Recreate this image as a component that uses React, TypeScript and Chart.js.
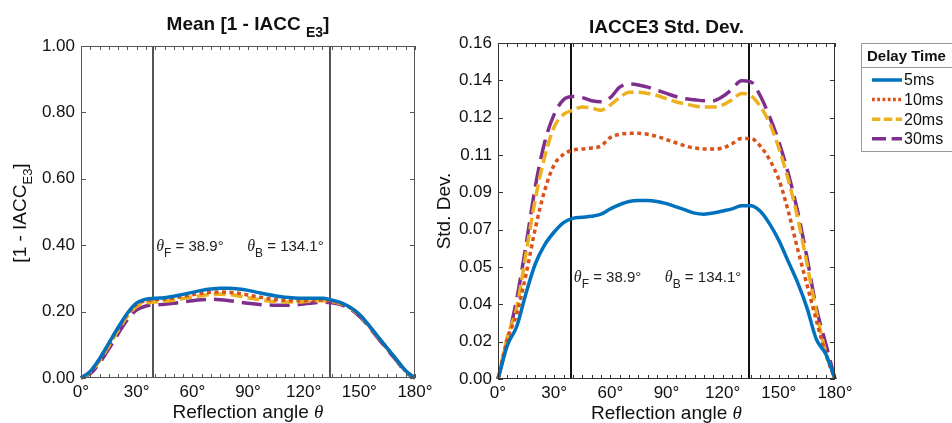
import React, { useEffect, useRef } from 'react';
import { Chart, registerables } from 'chart.js';

Chart.register(...registerables);

// ---------------- data ----------------
const angles = [0, 5, 10, 15, 20, 25, 30, 35, 40, 45, 50, 55, 60, 65, 70, 75, 80, 85, 90, 95, 100, 105, 110, 115, 120, 125, 130, 135, 140, 145, 150, 155, 160, 165, 170, 175, 180];
const seriesLabels = ['5ms', '10ms', '20ms', '30ms'];

const mean5 = [0, 0.020, 0.058, 0.105, 0.152, 0.195, 0.226, 0.237, 0.240, 0.242, 0.246, 0.252, 0.258, 0.264, 0.268, 0.270, 0.270, 0.268, 0.264, 0.258, 0.252, 0.247, 0.243, 0.241, 0.240, 0.240, 0.240, 0.235, 0.227, 0.213, 0.192, 0.160, 0.125, 0.090, 0.056, 0.022, 0];
const mean10 = [0, 0.019, 0.056, 0.103, 0.150, 0.192, 0.222, 0.233, 0.236, 0.238, 0.241, 0.246, 0.251, 0.255, 0.258, 0.259, 0.258, 0.255, 0.250, 0.245, 0.240, 0.236, 0.234, 0.233, 0.233, 0.234, 0.235, 0.232, 0.225, 0.212, 0.190, 0.158, 0.123, 0.088, 0.055, 0.021, 0];
const mean20 = [0, 0.017, 0.052, 0.097, 0.143, 0.186, 0.215, 0.226, 0.229, 0.231, 0.234, 0.239, 0.244, 0.248, 0.251, 0.252, 0.251, 0.247, 0.242, 0.237, 0.233, 0.230, 0.229, 0.229, 0.230, 0.232, 0.233, 0.231, 0.224, 0.211, 0.189, 0.158, 0.123, 0.089, 0.055, 0.021, 0];
const mean30 = [0, 0.013, 0.045, 0.088, 0.133, 0.176, 0.205, 0.217, 0.220, 0.222, 0.225, 0.229, 0.233, 0.236, 0.237, 0.236, 0.233, 0.229, 0.225, 0.222, 0.220, 0.219, 0.219, 0.220, 0.223, 0.226, 0.228, 0.227, 0.221, 0.208, 0.186, 0.155, 0.120, 0.086, 0.052, 0.018, 0];

const std5 = [0, 0.016, 0.025, 0.041, 0.055, 0.064, 0.070, 0.0745, 0.0765, 0.077, 0.0775, 0.0785, 0.081, 0.083, 0.0845, 0.085, 0.085, 0.0845, 0.0835, 0.082, 0.0805, 0.079, 0.0785, 0.079, 0.080, 0.081, 0.0825, 0.0825, 0.080, 0.074, 0.066, 0.056, 0.046, 0.034, 0.019, 0.012, 0];
const std10 = [0, 0.019, 0.031, 0.050, 0.072, 0.090, 0.102, 0.107, 0.109, 0.1095, 0.110, 0.111, 0.115, 0.1165, 0.117, 0.117, 0.1165, 0.1155, 0.114, 0.1125, 0.111, 0.110, 0.1095, 0.1095, 0.110, 0.112, 0.1145, 0.1145, 0.111, 0.1045, 0.095, 0.080, 0.062, 0.045, 0.028, 0.012, 0];
const std20 = [0, 0.020, 0.034, 0.060, 0.086, 0.106, 0.120, 0.126, 0.128, 0.1295, 0.129, 0.128, 0.1305, 0.134, 0.1365, 0.1365, 0.136, 0.135, 0.1335, 0.132, 0.131, 0.130, 0.1295, 0.1295, 0.1305, 0.133, 0.136, 0.135, 0.130, 0.122, 0.110, 0.095, 0.077, 0.055, 0.032, 0.013, 0];
const std30 = [0, 0.018, 0.038, 0.064, 0.092, 0.113, 0.126, 0.133, 0.1345, 0.134, 0.1325, 0.132, 0.134, 0.139, 0.1405, 0.140, 0.139, 0.1375, 0.136, 0.1345, 0.1335, 0.133, 0.1325, 0.1325, 0.1345, 0.138, 0.142, 0.1415, 0.135, 0.125, 0.113, 0.098, 0.080, 0.058, 0.034, 0.017, 0];

const xTickValues = [0, 30, 60, 90, 120, 150, 180];
const xTickLabels = ['0°', '30°', '60°', '90°', '120°', '150°', '180°'];
const leftYTickValues = [0, 0.2, 0.4, 0.6, 0.8, 1.0];
const leftYTickLabels = ['0.00', '0.20', '0.40', '0.60', '0.80', '1.00'];
const rightYTickLabels = ['0.00', '0.02', '0.04', '0.05', '0.07', '0.09', '0.11', '0.12', '0.14', '0.16'];
const rightYMax = 0.16;

const thetaF = 38.9;
const thetaB = 134.1;
const legendTitle = 'Delay Time';

// ---------------- styles ----------------
const SANS = "'Liberation Sans', Arial, Helvetica, sans-serif";
const SERIF = "'Liberation Serif', 'DejaVu Serif', serif";
const colors = ['#0072BD', '#D95319', '#EDB120', '#7E2F8E'];
const dashes: number[][] = [[], [4, 3.5], [12, 5], [20, 8]];
const LW = 3.5;

type Part = { t: string; f: string; dy?: number };

function richWidth(ctx: CanvasRenderingContext2D, parts: Part[]) {
  let w = 0;
  for (const p of parts) {
    ctx.font = p.f;
    w += ctx.measureText(p.t).width;
  }
  return w;
}

function drawRich(ctx: CanvasRenderingContext2D, parts: Part[], x: number, y: number, align: 'left' | 'center', color = '#111') {
  const w = richWidth(ctx, parts);
  let cx = align === 'center' ? x - w / 2 : x;
  ctx.fillStyle = color;
  ctx.textAlign = 'left';
  for (const p of parts) {
    ctx.font = p.f;
    ctx.fillText(p.t, cx, y + (p.dy || 0));
    cx += ctx.measureText(p.t).width;
  }
}

type Panel = {
  series: number[][];
  yMax: number;
  yTickValues: number[];
  yTickLabels: string[];
  padding: { top: number; right: number; left: number; bottom: number };
  yWidth: number;
  xHeight: number;
  vlineColor: string;
  frameColor: string;
  titleParts: Part[];
  yTitleParts: Part[];
  yTitleX: number;
  yTitleY: number;
  annotY: number;
  legend: boolean;
};

function makeChart(canvas: HTMLCanvasElement, p: Panel) {
  const decor = {
    id: 'decor',
    beforeDatasetsDraw(chart: any) {
      const ctx = chart.ctx as CanvasRenderingContext2D;
      const { top, bottom } = chart.chartArea;
      const xs = chart.scales.x;
      ctx.save();
      ctx.strokeStyle = p.vlineColor;
      ctx.lineWidth = 2;
      for (const a of [thetaF, thetaB]) {
        const px = Math.round(xs.getPixelForValue(a));
        ctx.beginPath();
        ctx.moveTo(px, top);
        ctx.lineTo(px, bottom);
        ctx.stroke();
      }
      ctx.restore();
    },
    afterDatasetsDraw(chart: any) {
      const ctx = chart.ctx as CanvasRenderingContext2D;
      const { left, right, top, bottom } = chart.chartArea;
      const xs = chart.scales.x;
      const ys = chart.scales.y;
      ctx.save();
      // frame
      ctx.strokeStyle = p.frameColor;
      ctx.lineWidth = 1;
      ctx.strokeRect(left + 0.5, top + 0.5, right - left - 1, bottom - top - 1);
      // x ticks (minor every 5 degrees)
      ctx.beginPath();
      for (let a = 0; a <= 180; a += 5) {
        const px = Math.round(xs.getPixelForValue(a)) + 0.5;
        ctx.moveTo(px, bottom);
        ctx.lineTo(px, bottom - 4);
        ctx.moveTo(px, top);
        ctx.lineTo(px, top + 4);
      }
      for (const v of p.yTickValues) {
        const py = Math.round(ys.getPixelForValue(v)) + 0.5;
        ctx.moveTo(left, py);
        ctx.lineTo(left + 5, py);
        ctx.moveTo(right, py);
        ctx.lineTo(right - 5, py);
      }
      ctx.stroke();

      // annotation
      ctx.textBaseline = 'alphabetic';
      const ax = xs.getPixelForValue(thetaF) + 3;
      const ay = ys.getPixelForValue(p.annotY);
      const th = `italic 16px ${SERIF}`;
      const sub = `12px ${SANS}`;
      const nf = `15px ${SANS}`;
      drawRich(ctx, [
        { t: 'θ', f: th },
        { t: 'F', f: sub, dy: 6 },
        { t: ' = 38.9°', f: nf },
      ], ax, ay, 'left', '#222');
      drawRich(ctx, [
        { t: 'θ', f: th },
        { t: 'B', f: sub, dy: 6 },
        { t: ' = 134.1°', f: nf },
      ], ax + 91, ay, 'left', '#222');

      // title
      const cx = (left + right) / 2;
      drawRich(ctx, p.titleParts, cx, top - (p.legend ? 10 : 16), 'center', '#111');

      // x title
      drawRich(ctx, [
        { t: 'Reflection angle ', f: `19px ${SANS}` },
        { t: 'θ', f: `italic 19px ${SERIF}`, dy: 0 },
      ], cx, bottom + 40, 'center', '#111');

      // y title (rotated)
      ctx.save();
      ctx.translate(p.yTitleX, p.yTitleY);
      ctx.rotate(-Math.PI / 2);
      ctx.textBaseline = 'middle';
      drawRich(ctx, p.yTitleParts, 0, 0, 'center', '#111');
      ctx.restore();

      // legend
      if (p.legend) {
        const lx = 441;
        const ly = 43;
        ctx.fillStyle = '#ffffff';
        ctx.fillRect(lx, ly, 200, 108);
        ctx.strokeStyle = '#9a9a9a';
        ctx.lineWidth = 1;
        ctx.strokeRect(lx + 0.5, ly + 0.5, 200, 108);
        ctx.beginPath();
        ctx.moveTo(lx, ly + 24.5);
        ctx.lineTo(lx + 200, ly + 24.5);
        ctx.stroke();
        ctx.textBaseline = 'alphabetic';
        ctx.fillStyle = '#111';
        ctx.font = `bold 15px ${SANS}`;
        ctx.fillText(legendTitle, lx + 6, ly + 18);
        seriesLabels.forEach((lab, i) => {
          const yy = 80 + i * 19.6;
          ctx.strokeStyle = colors[i];
          ctx.lineWidth = LW;
          ctx.setLineDash(dashes[i].length ? dashes[i].map((d) => d * 0.7) : []);
          ctx.beginPath();
          ctx.moveTo(lx + 11, yy);
          ctx.lineTo(lx + 41, yy);
          ctx.stroke();
          ctx.setLineDash([]);
          ctx.fillStyle = '#111';
          ctx.font = `16px ${SANS}`;
          ctx.textBaseline = 'middle';
          ctx.fillText(lab, lx + 43, yy + 1);
        });
      }
      ctx.restore();
    },
  };

  return new Chart(canvas, {
    type: 'line',
    data: {
      datasets: p.series.map((vals, i) => ({
        label: seriesLabels[i],
        data: angles.map((a, j) => ({ x: a, y: vals[j] })),
        borderColor: colors[i],
        backgroundColor: colors[i],
        borderDash: dashes[i],
        borderWidth: LW,
        borderCapStyle: 'butt',
        pointRadius: 0,
        fill: false,
        cubicInterpolationMode: 'monotone',
        clip: 3,
      })),
    },
    options: {
      responsive: false,
      animation: false,
      devicePixelRatio: 1,
      layout: { padding: p.padding },
      plugins: {
        legend: { display: false },
        title: { display: false },
        tooltip: { enabled: false },
      },
      scales: {
        x: {
          type: 'linear',
          min: 0,
          max: 180,
          afterBuildTicks: (s: any) => {
            s.ticks = xTickValues.map((v) => ({ value: v }));
          },
          afterFit: (s: any) => {
            s.height = p.xHeight;
          },
          ticks: {
            callback: (_v: any, i: number) => xTickLabels[i],
            font: { family: SANS, size: 17 },
            color: '#111',
            padding: 4,
            maxRotation: 0,
            autoSkip: false,
          },
          grid: { display: false, drawTicks: false },
          border: { display: false },
        },
        y: {
          type: 'linear',
          min: 0,
          max: p.yMax,
          afterBuildTicks: (s: any) => {
            s.ticks = p.yTickValues.map((v) => ({ value: v }));
          },
          afterFit: (s: any) => {
            s.width = p.yWidth;
          },
          ticks: {
            callback: (_v: any, i: number) => p.yTickLabels[i],
            font: { family: SANS, size: 17 },
            color: '#111',
            padding: 6,
            autoSkip: false,
          },
          grid: { display: false, drawTicks: false },
          border: { display: false },
        },
      },
    } as any,
    plugins: [decor],
  } as any);
}

const rightYTickValues = rightYTickLabels.map((_, i) => (i * rightYMax) / (rightYTickLabels.length - 1));

export default function App() {
  const leftRef = useRef<HTMLCanvasElement>(null);
  const rightRef = useRef<HTMLCanvasElement>(null);

  useEffect(() => {
    const c1 = makeChart(leftRef.current!, {
      series: [mean5, mean10, mean20, mean30],
      yMax: 1,
      yTickValues: leftYTickValues,
      yTickLabels: leftYTickLabels,
      padding: { top: 46, right: 25, left: 0, bottom: 0 },
      yWidth: 81,
      xHeight: 45,
      vlineColor: '#555555',
      frameColor: '#555555',
      titleParts: [
        { t: 'Mean [1 - IACC ', f: `bold 19px ${SANS}` },
        { t: 'E3', f: `bold 14px ${SANS}`, dy: 7 },
        { t: ']', f: `bold 19px ${SANS}` },
      ],
      yTitleParts: [
        { t: '[1 - IACC', f: `19px ${SANS}` },
        { t: 'E3', f: `13px ${SANS}`, dy: 7 },
        { t: ']', f: `19px ${SANS}` },
      ],
      yTitleX: 21,
      yTitleY: 213,
      annotY: 0.3825,
      legend: false,
    });
    const c2 = makeChart(rightRef.current!, {
      series: [std5, std10, std20, std30],
      yMax: rightYMax,
      yTickValues: rightYTickValues,
      yTickLabels: rightYTickLabels,
      padding: { top: 43, right: 117, left: 0, bottom: 0 },
      yWidth: 78,
      xHeight: 44,
      vlineColor: '#111111',
      frameColor: '#333333',
      titleParts: [{ t: 'IACCE3 Std. Dev.', f: `bold 19px ${SANS}` }],
      yTitleParts: [{ t: 'Std. Dev.', f: `19px ${SANS}` }],
      yTitleX: 25,
      yTitleY: 211,
      annotY: 0.0462,
      legend: true,
    });
    return () => {
      c1.destroy();
      c2.destroy();
    };
  }, []);

  return (
    <div style={{ position: 'absolute', left: 0, top: 0, width: 952, height: 423, background: '#ffffff', overflow: 'hidden' }}>
      <canvas ref={leftRef} width={440} height={423} style={{ position: 'absolute', left: 0, top: 0, width: 440, height: 423 }} />
      <canvas ref={rightRef} width={532} height={423} style={{ position: 'absolute', left: 420, top: 0, width: 532, height: 423 }} />
    </div>
  );
}
